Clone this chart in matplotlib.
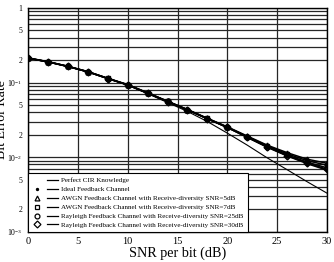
import matplotlib
matplotlib.use("Agg")
import matplotlib.pyplot as plt
from matplotlib.lines import Line2D
from matplotlib.legend_handler import HandlerTuple
import matplotlib.ticker as ticker

plt.rcParams["font.family"] = ["Liberation Serif", "DejaVu Serif"]
plt.rcParams["mathtext.fontset"] = "custom"
plt.rcParams["mathtext.rm"] = "Liberation Serif"
plt.rcParams["mathtext.it"] = "Liberation Serif:italic"

# SNR per bit (dB)
snr = [0, 2, 4, 6, 8, 10, 12, 14, 16, 18, 20, 22, 24, 26, 28, 30]

ber_perfect = [0.212, 0.189, 0.164, 0.139, 0.114, 0.092, 0.071, 0.054,
               0.041, 0.030, 0.021, 0.0145, 0.0098, 0.0068, 0.0047, 0.0033]
ber_ideal = [0.212, 0.189, 0.164, 0.139, 0.113, 0.093, 0.072, 0.0557,
             0.043, 0.0327, 0.0250, 0.0184, 0.0136, 0.0104, 0.0082, 0.0067]
ber_awgn5 = [0.214, 0.190, 0.165, 0.140, 0.114, 0.094, 0.073, 0.0562,
             0.0435, 0.0332, 0.0255, 0.0192, 0.0145, 0.0115, 0.0094, 0.0083]
ber_awgn7 = [0.213, 0.190, 0.165, 0.140, 0.114, 0.093, 0.0725, 0.056,
             0.0433, 0.033, 0.0253, 0.0189, 0.0142, 0.0111, 0.0090, 0.0078]
ber_ray25 = [0.212, 0.189, 0.164, 0.139, 0.113, 0.093, 0.072, 0.0558,
             0.0431, 0.0328, 0.0251, 0.0187, 0.0139, 0.0107, 0.0086, 0.0072]
ber_ray30 = [0.212, 0.189, 0.164, 0.139, 0.113, 0.093, 0.072, 0.0557,
             0.043, 0.0327, 0.0250, 0.0185, 0.0137, 0.0105, 0.0084, 0.0069]

labels = [
    "Perfect CIR Knowledge",
    "Ideal Feedback Channel",
    "AWGN Feedback Channel with Receive-diversity SNR=5dB",
    "AWGN Feedback Channel with Receive-diversity SNR=7dB",
    "Rayleigh Feedback Channel with Receive-diversity SNR=25dB",
    "Rayleigh Feedback Channel with Receive-diversity SNR=30dB",
]
markers = ["none", ".", "^", "s", "o", "D"]
series = [ber_perfect, ber_ideal, ber_awgn5, ber_awgn7, ber_ray25, ber_ray30]

yticks = [1e-3, 2e-3, 5e-3, 1e-2, 2e-2, 5e-2, 1e-1, 2e-1, 5e-1, 1]
yticklabels = [r"$10^{-3}$", "2", "5", r"$10^{-2}$", "2", "5", r"$10^{-1}$", "2", "5", "1"]
xticks = [0, 5, 10, 15, 20, 25, 30]

fig = plt.figure(figsize=(3.34, 2.62), dpi=100)
ax = fig.add_axes([0.084, 0.115, 0.895, 0.855])

for i, (vals, m) in enumerate(zip(series, markers)):
    if i == 0:
        ax.plot(snr, vals, color="k", lw=0.8, zorder=3)
    else:
        ax.plot(snr, vals, color="k", lw=1.1, marker=m, ms=3.5,
                mfc="none" if m != "." else "k", mec="k", mew=1.0, zorder=3)

ax.set_yscale("log")
ax.set_xlim(0, 30)
ax.set_ylim(1e-3, 1)
ax.set_xticks(xticks)
ax.set_yticks(yticks)
ax.set_yticklabels(yticklabels)
ax.yaxis.set_minor_locator(ticker.LogLocator(base=10, subs=range(2, 10)))
ax.yaxis.set_minor_formatter(ticker.NullFormatter())
ax.tick_params(axis="both", which="both", length=0)
ax.tick_params(axis="y", labelsize=5.6, pad=4)
ax.tick_params(axis="x", labelsize=7.5, pad=4)
ax.grid(True, which="both", color="0.15", lw=0.9)
for s in ax.spines.values():
    s.set_linewidth(1.0)

ax.set_xlabel("SNR per bit (dB)", fontsize=10.2, labelpad=0)
ax.set_ylabel("Bit Error Rate", fontsize=10)
ax.yaxis.set_label_coords(-0.066, 0.5)

handles = []
for m in markers:
    mk = Line2D([], [], ls="none", marker=m, ms=3.5 if m != "." else 3,
                mfc="none" if m != "." else "k", mec="k", mew=0.9)
    ln = Line2D([], [], color="k", lw=0.9)
    handles.append((mk, ln))

leg = ax.legend(handles, labels, loc="lower left", bbox_to_anchor=(0, 0),
                borderaxespad=0, fontsize=5.1, frameon=True, fancybox=False,
                framealpha=1, edgecolor="k", handlelength=3.7,
                handletextpad=0.45, labelspacing=0.42, borderpad=0.55,
                handler_map={tuple: HandlerTuple(ndivide=None, pad=0.6)})
leg.get_frame().set_linewidth(0.8)
leg.set_zorder(5)

fig.savefig("out.png", dpi=100)
